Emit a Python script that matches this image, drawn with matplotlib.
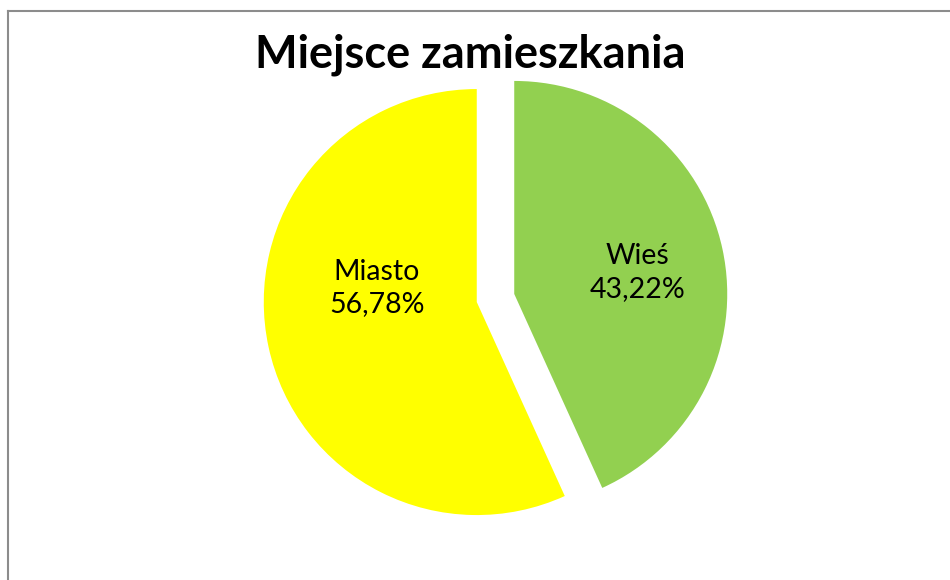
import matplotlib
matplotlib.use("Agg")
import matplotlib.pyplot as plt
from matplotlib.lines import Line2D

# ---- data ----
title = "Miejsce zamieszkania"
categories = ["Wieś", "Miasto"]
values = [43.22, 56.78]
colors = ["#92D050", "#FFFF00"]

plt.rcParams['font.family'] = ['Lato', 'DejaVu Sans']

W, H, DPI = 950, 580, 100
fig = plt.figure(figsize=(W / DPI, H / DPI), dpi=DPI)
fig.patch.set_facecolor("white")

ax = fig.add_axes([0, 0, 1, 1])
R_PX = 213.0
CX, CY = 495.5, 298.0  # pie centre in image pixels (from top)

wedges, _ = ax.pie(values, colors=colors, startangle=90, counterclock=False,
                   explode=[0.09, 0.09], radius=1.0,
                   wedgeprops=dict(linewidth=0))
ax.set_aspect('auto')
ax.set_xlim(-CX / R_PX, (W - CX) / R_PX)
ax.set_ylim(-(H - CY) / R_PX, CY / R_PX)
ax.axis('off')

# label offsets relative to each wedge centre (in radius units)
label_offsets = [(0.58, 0.10), (-0.47, 0.066)]
for w, cat, val, (dx, dy) in zip(wedges, categories, values, label_offsets):
    cx, cy = w.center
    txt = f"{cat}\n{val:.2f}%".replace(".", ",")
    ax.text(cx + dx, cy + dy, txt, ha='center', va='center',
            fontsize=20.5, color='black', linespacing=1.3)

fig.text(470 / W, 1 - 68 / H, title, ha='center', va='baseline',
         fontsize=32.5, fontweight='bold', color='black')

# chart area border (top and left visible)
bc = "#8c8c8c"
fig.add_artist(Line2D([7.5 / W, 7.5 / W], [1 - 10.5 / H, 0], color=bc, lw=1.5,
                      transform=fig.transFigure))
fig.add_artist(Line2D([7.5 / W, 1], [1 - 10.5 / H, 1 - 10.5 / H], color=bc, lw=1.5,
                      transform=fig.transFigure))

fig.savefig("out.png", dpi=DPI)
